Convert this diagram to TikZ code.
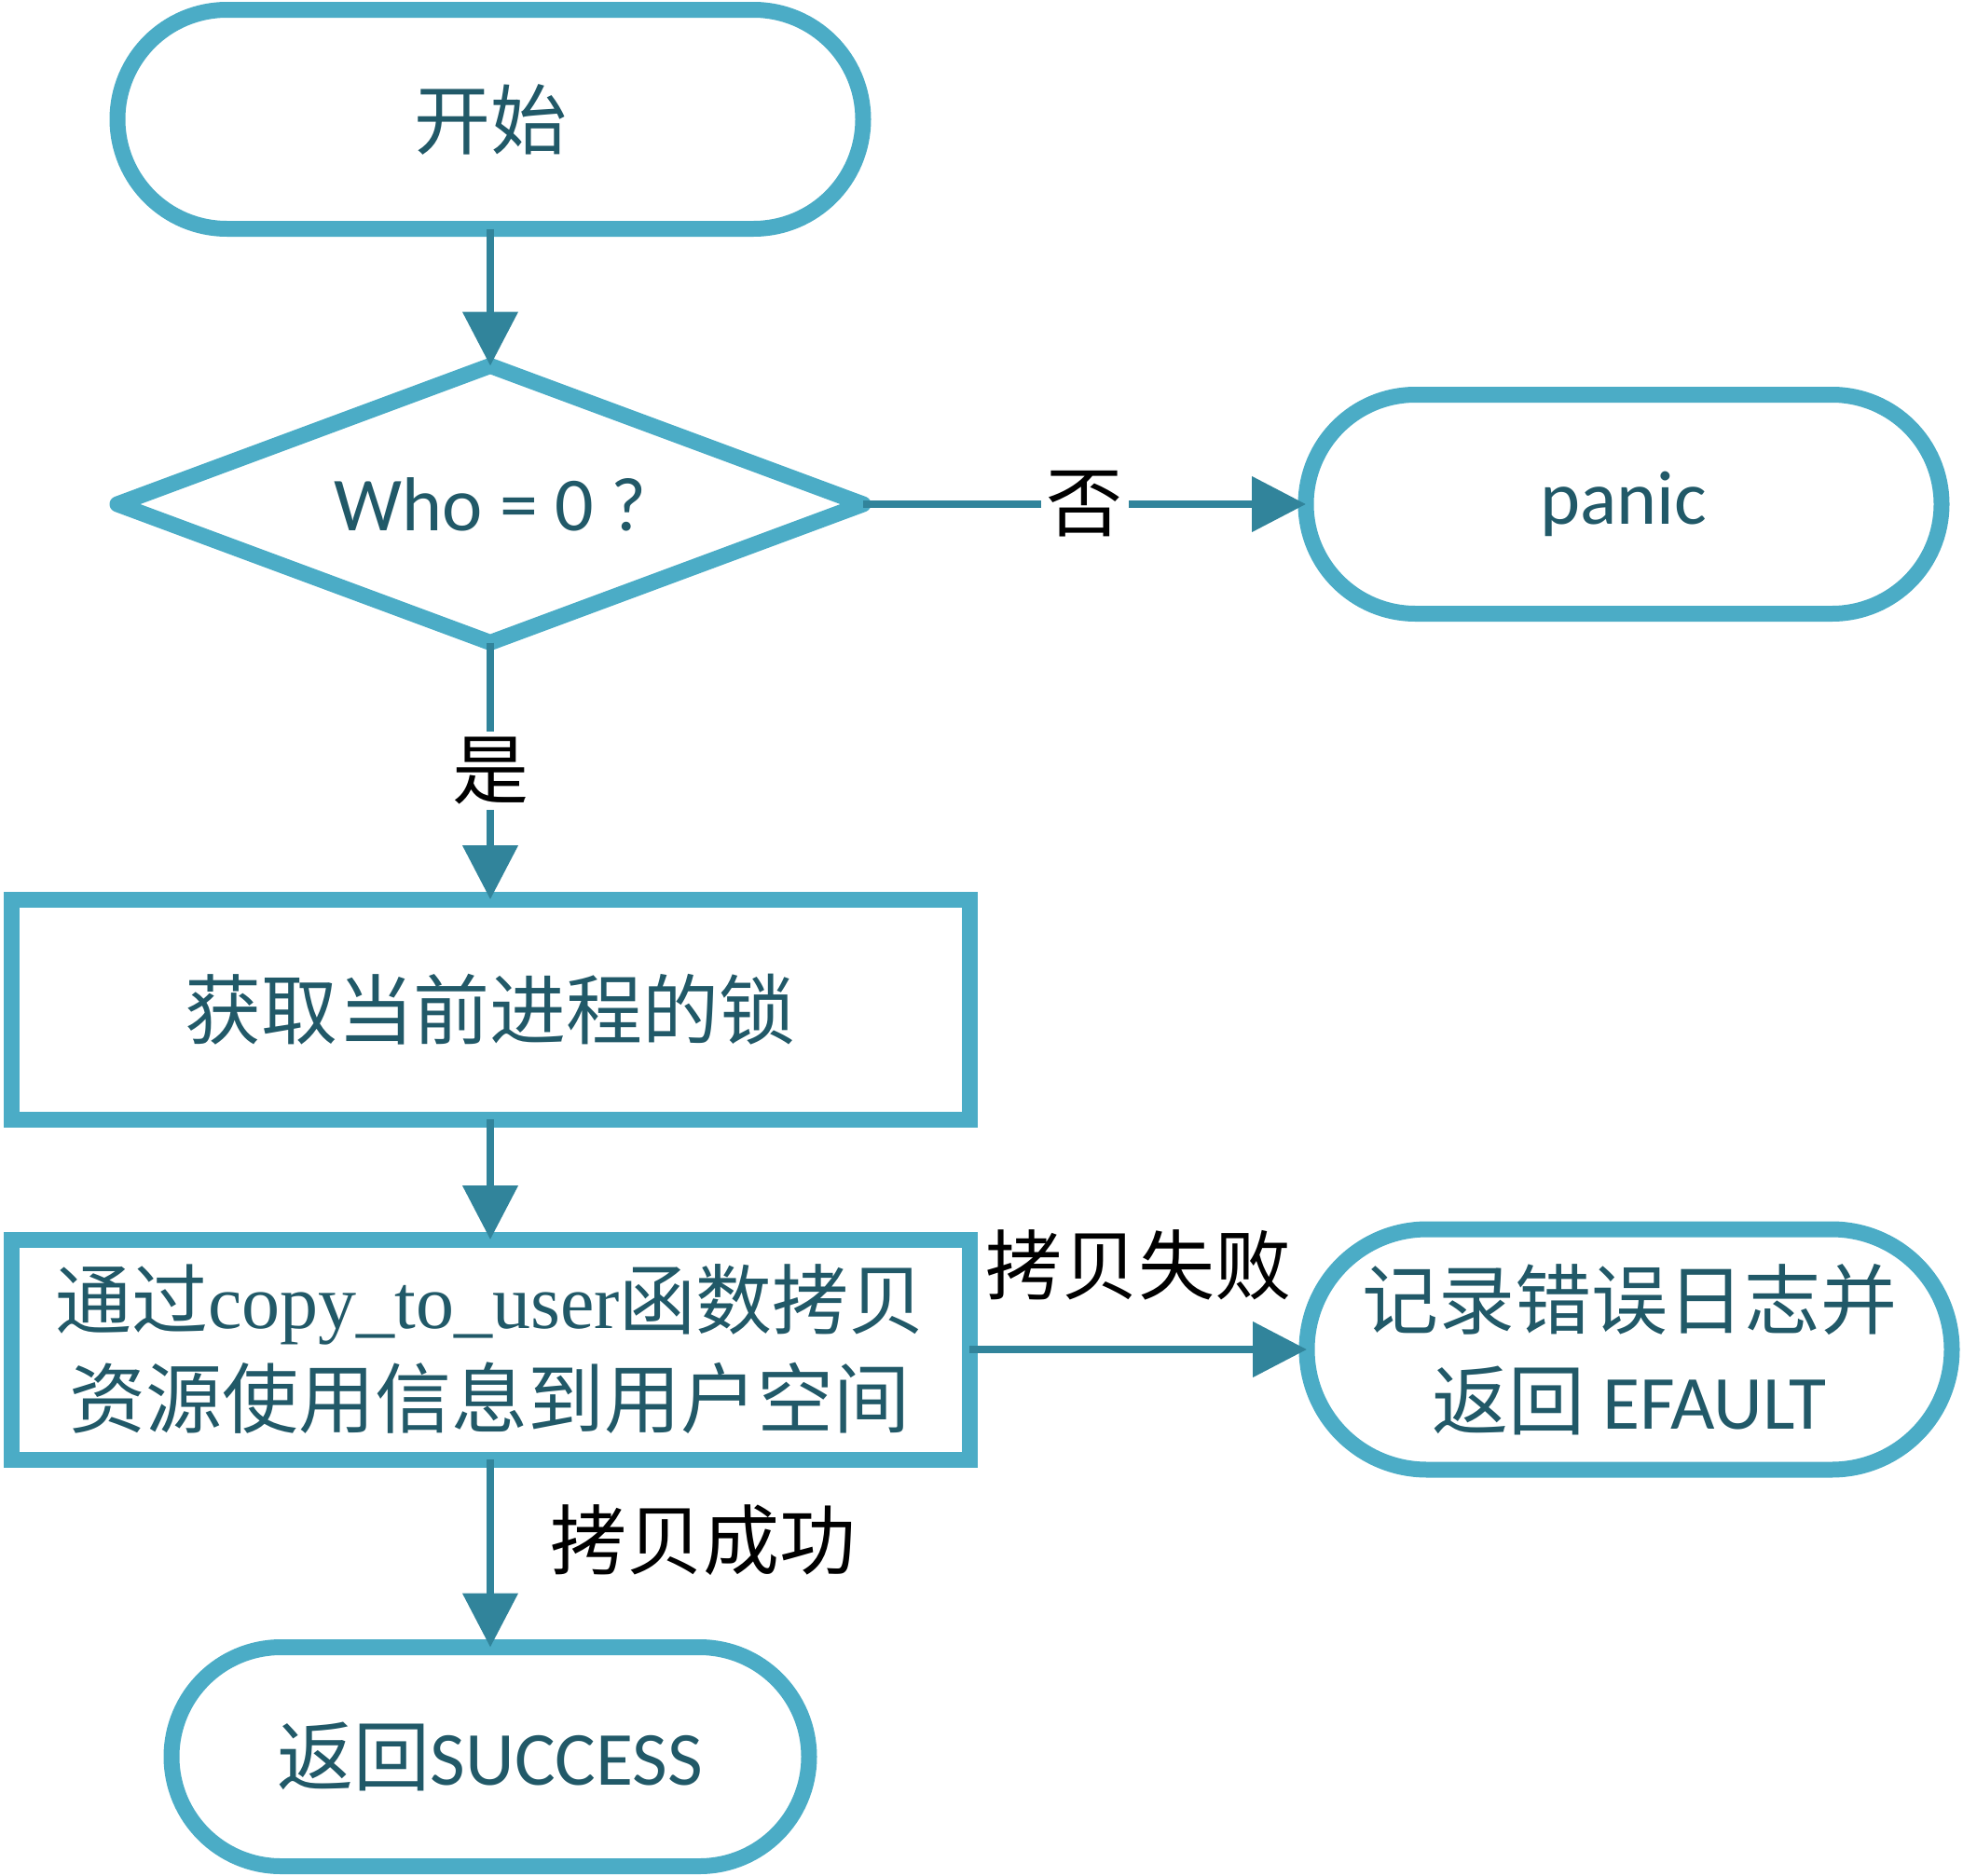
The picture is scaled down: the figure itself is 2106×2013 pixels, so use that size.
\documentclass[tikz,border=0pt]{standalone}
\usepackage{fontspec}
\setmainfont{Carlito}
\newfontfamily\cjk{Noto Sans CJK SC}
\newfontfamily\serifen{Liberation Serif}
\usepackage{xcolor}
\usetikzlibrary{shapes.geometric,arrows.meta,positioning}

\definecolor{randblau}{HTML}{4BACC6}
\definecolor{pfeilblau}{HTML}{31849B}
\definecolor{textblau}{HTML}{215968}

\tikzset{
  knoten/.style={draw=randblau, line width=8.5pt, fill=white, inner sep=0pt, outer sep=0pt,
    text=textblau, align=center, font=\fontsize{41}{53}\selectfont},
  terminal/.style={knoten, rounded corners=58.75pt, minimum width=#1, minimum height=117.5pt},
  entscheidung/.style={knoten, diamond, aspect=2.7, line join=round, minimum width=400pt, minimum height=148.5pt},
  prozess/.style={knoten, minimum width=514pt, minimum height=118pt},
  pfeil/.style={draw=pfeilblau, line width=4pt, -{Triangle[length=29pt,width=29pt]}},
  marke/.style={font=\cjk\fontsize{41}{41}\selectfont, text=black, fill=white, inner sep=3pt}
}

\begin{document}
\begin{tikzpicture}[x=0.5pt, y=-0.5pt]
  \useasboundingbox (0,0) rectangle (2106,2013);

  % Knoten
  \node[terminal=400pt] (start) at (526,128) {\cjk 开始};
  \node[entscheidung] (who) at (526,541) {Who = 0 ?};
  \node[terminal=341pt] (panic) at (1742,541) {panic};
  \node[prozess] (lock) at (526,1083) {\cjk 获取当前进程的锁};
  \node[prozess] (copy) at (526,1448)
    {{\cjk 通过}{\serifen copy\_to\_user}{\cjk 函数拷贝}\\{\cjk 资源使用信息到用户空间}};
  \node[terminal=346pt, rounded corners=64.5pt, minimum height=129pt,
        font=\fontsize{41}{54}\selectfont] (efault) at (1748,1448)
    {{\cjk 记录错误日志并}\\{\cjk 返回} EFAULT};
  \node[terminal=342pt] (success) at (526,1885) {{\cjk 返回}SUCCESS};

  % Pfeile
  \draw[pfeil] (start.south) -- (who.north);
  \draw[pfeil] (who.east) -- node[marke] {否} (panic.west);
  \draw[pfeil] (who.south) -- node[marke] {是} (lock.north);
  \draw[pfeil] (lock.south) -- (copy.north);
  \draw[pfeil] (copy.east) -- node[marke, fill=none, inner sep=0pt, above=24.5pt] {拷贝失败} (efault.west);
  \draw[pfeil] (copy.south) -- node[marke, fill=none, inner sep=0pt, right=30pt, yshift=7pt] {拷贝成功} (success.north);

\end{tikzpicture}
\end{document}
